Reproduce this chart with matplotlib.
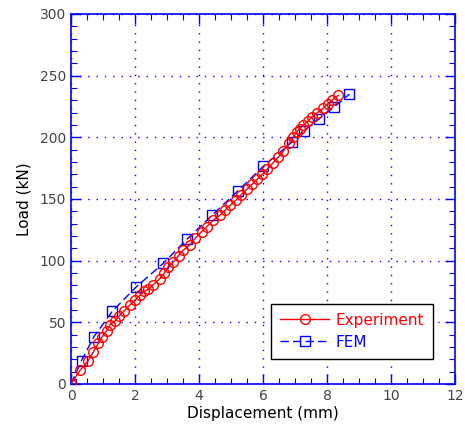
import matplotlib
matplotlib.use('Agg')
from matplotlib import pyplot as plt
from matplotlib.ticker import MultipleLocator

# Experiment (red circles)
exp_disp = [0, 0.28, 0.54, 0.70, 0.85, 0.98, 1.11, 1.22, 1.37, 1.50, 1.67, 1.84, 2.00,
            2.16, 2.29, 2.42, 2.57, 2.78, 2.92, 3.04, 3.20, 3.36, 3.51, 3.72, 3.88, 4.08,
            4.24, 4.45, 4.66, 4.82, 4.98, 5.15, 5.32, 5.50, 5.66, 5.82, 5.98, 6.14, 6.30,
            6.48, 6.64, 6.82, 6.95, 7.05, 7.15, 7.26, 7.40, 7.52, 7.70, 7.88, 8.02, 8.15, 8.35]
exp_load = [0, 11, 19, 26, 33, 38.5, 43, 48, 51, 55, 59.5, 64, 68,
            72, 75, 77, 80.5, 85.5, 90, 95, 99, 104, 108.5, 113, 118, 123.5,
            127.5, 133, 137, 141, 145, 149, 153.5, 158, 162, 166, 170, 174.5, 179,
            184, 189, 195, 200, 204.5, 207, 210, 213, 216.5, 220, 223.5, 227, 230, 234]

# FEM (blue squares)
fem_disp = [0, 0.33, 0.72, 1.29, 2.03, 2.89, 3.63, 4.42, 5.21, 6.01, 6.90, 7.28, 7.76, 8.22, 8.70]
fem_load = [0, 19, 38.5, 59, 78.5, 98, 117.5, 137, 156.5, 176.5, 196, 205.5, 215, 224.5, 235]

fig = plt.figure(figsize=(4.65, 4.37), dpi=100)
ax = fig.add_axes([0.1527, 0.1213, 0.8258, 0.8467])

ax.plot(fem_disp, fem_load, color='blue', linestyle=(0, (6, 3)), linewidth=1.0,
        marker='s', markersize=7.5, markerfacecolor='none', markeredgecolor='blue',
        markeredgewidth=1.0, label='FEM', zorder=2)
ax.plot(exp_disp, exp_load, color='red', linestyle='-', linewidth=1.0,
        marker='o', markersize=7, markerfacecolor='none', markeredgecolor='red',
        markeredgewidth=1.0, label='Experiment', zorder=3)

ax.set_xlim(0, 12)
ax.set_ylim(0, 300)
ax.xaxis.set_major_locator(MultipleLocator(2))
ax.xaxis.set_minor_locator(MultipleLocator(0.5))
ax.yaxis.set_major_locator(MultipleLocator(50))
ax.yaxis.set_minor_locator(MultipleLocator(10))

for s in ax.spines.values():
    s.set_color('blue')
    s.set_linewidth(1.2)
ax.tick_params(which='both', direction='in', top=True, right=True, color='blue',
               labelcolor='#444444', labelsize=10)
ax.tick_params(which='major', length=7, width=1.0)
ax.tick_params(which='minor', length=4, width=0.8)
ax.grid(True, which='major', color='blue', linestyle=(0, (1, 5)), linewidth=1.0)

ax.set_xlabel('Displacement (mm)', fontsize=11, labelpad=2)
ax.set_ylabel('Load (kN)', fontsize=11, labelpad=6)

handles, labels = ax.get_legend_handles_labels()
leg = ax.legend(handles[::-1], labels[::-1], loc='lower right',
                bbox_to_anchor=(0.943, 0.068), borderaxespad=0, fontsize=11,
                fancybox=False, framealpha=1, edgecolor='black', handlelength=3.2,
                borderpad=0.6, labelspacing=0.45, handletextpad=0.4)
leg.get_frame().set_linewidth(1.0)
for txt, col in zip(leg.get_texts(), ['red', 'blue']):
    txt.set_color(col)

fig.savefig('out.png', dpi=100)
